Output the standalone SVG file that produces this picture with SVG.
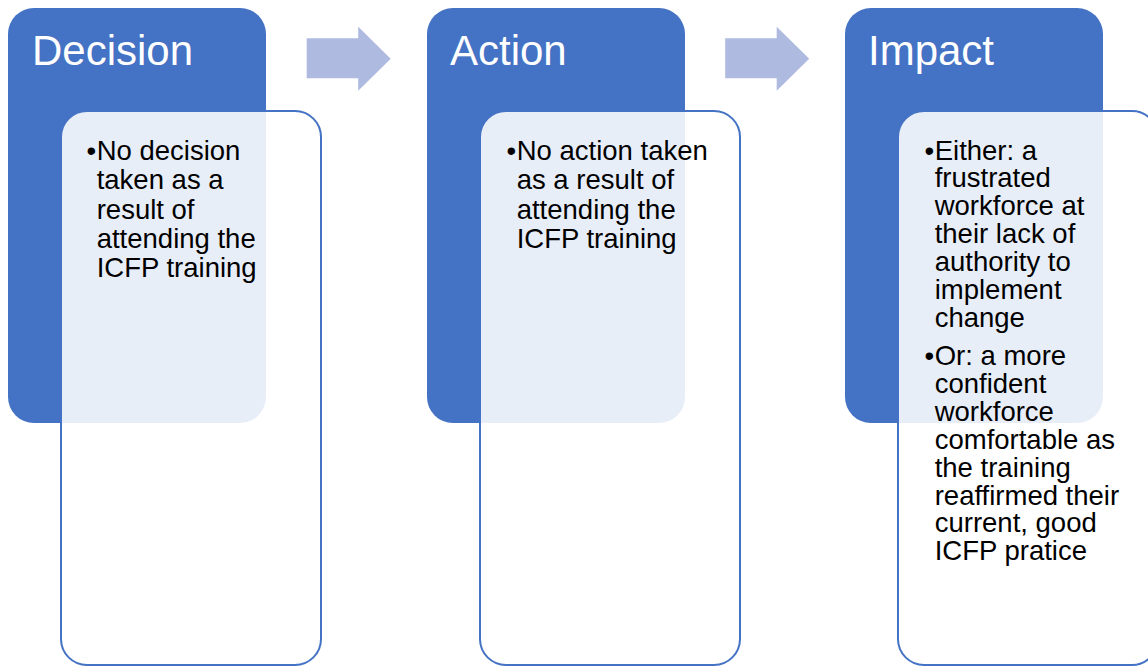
<svg xmlns="http://www.w3.org/2000/svg" width="1148" height="666" viewBox="0 0 1148 666">
  <style>
    .head { fill: #4472C4; }
    .body { fill: #FFFFFF; fill-opacity: 0.88; stroke: #4472C4; stroke-width: 2; }
    .title { font-family: "Liberation Sans", Arial, sans-serif; font-size: 42px; fill: #FFFFFF; }
    .txt { font-family: "Liberation Sans", Arial, sans-serif; font-size: 27.5px; fill: #000000; }
    .arrow { fill: #AEBADF; }
  </style>
  <defs>
    <polygon id="step-arrow" points="0,11.5 51.5,11.5 51.5,0 84,32 51.5,64 51.5,51.5 0,51.5"/>
  </defs>

  <!-- flow arrows between stages -->
  <g id="connectors">
    <use href="#step-arrow" class="arrow" x="306.7" y="26.8"/>
    <use href="#step-arrow" class="arrow" x="725.2" y="26.8"/>
  </g>

  <!-- stage 1 -->
  <g id="decision">
    <rect class="head" x="8" y="8" width="258" height="415" rx="26" ry="26"/>
    <text class="title" x="32" y="65">Decision</text>
    <rect class="body" x="61" y="111" width="260" height="554" rx="26" ry="26"/>
    <text class="txt" x="86.5" y="160">•</text>
    <text class="txt">
      <tspan x="96.7" y="160">No decision</tspan>
      <tspan x="96.7" y="189.3">taken as a</tspan>
      <tspan x="96.7" y="218.6">result of</tspan>
      <tspan x="96.7" y="247.9">attending the</tspan>
      <tspan x="96.7" y="277.2">ICFP training</tspan>
    </text>
  </g>

  <!-- stage 2 -->
  <g id="action">
    <rect class="head" x="427" y="8" width="258" height="415" rx="26" ry="26"/>
    <text class="title" x="450" y="65">Action</text>
    <rect class="body" x="480" y="111" width="260" height="554" rx="26" ry="26"/>
    <text class="txt" x="506.5" y="160">•</text>
    <text class="txt">
      <tspan x="516.7" y="160">No action taken</tspan>
      <tspan x="516.7" y="189.3">as a result of</tspan>
      <tspan x="516.7" y="218.6">attending the</tspan>
      <tspan x="516.7" y="247.9">ICFP training</tspan>
    </text>
  </g>

  <!-- stage 3 -->
  <g id="impact">
    <rect class="head" x="845" y="8" width="258" height="415" rx="26" ry="26"/>
    <text class="title" x="868" y="65">Impact</text>
    <rect class="body" x="898" y="111" width="260" height="554" rx="26" ry="26"/>
    <text class="txt" x="924.5" y="159.5">•</text>
    <text class="txt">
      <tspan x="934.7" y="159.5">Either: a</tspan>
      <tspan x="934.7" y="187.4">frustrated</tspan>
      <tspan x="934.7" y="215.3">workforce at</tspan>
      <tspan x="934.7" y="243.2">their lack of</tspan>
      <tspan x="934.7" y="271.1">authority to</tspan>
      <tspan x="934.7" y="299">implement</tspan>
      <tspan x="934.7" y="326.9">change</tspan>
    </text>
    <text class="txt" x="924.5" y="365">•</text>
    <text class="txt">
      <tspan x="934.7" y="365">Or: a more</tspan>
      <tspan x="934.7" y="392.9">confident</tspan>
      <tspan x="934.7" y="420.8">workforce</tspan>
      <tspan x="934.7" y="448.7">comfortable as</tspan>
      <tspan x="934.7" y="476.6">the training</tspan>
      <tspan x="934.7" y="504.5">reaffirmed their</tspan>
      <tspan x="934.7" y="532.4">current, good</tspan>
      <tspan x="934.7" y="560.3">ICFP pratice</tspan>
    </text>
  </g>
</svg>
